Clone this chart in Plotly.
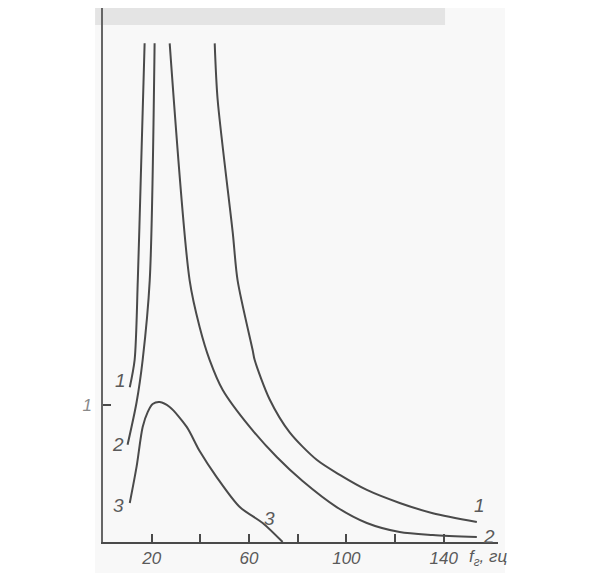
import plotly.graph_objects as go

# frequency (Hz) and relative amplitude
c1_x = [17.1, 15.5, 14.3, 13.0, 11.0, None,
        45.9, 47.1, 53.3, 55.3, 61.5, 62.3, 68.5, 76.7, 87.8, 97.3, 108.4, 121.9, 135.5, 153.6]
c1_y = [3.64, 2.64, 1.91, 1.33, 1.13, None,
        3.64, 3.23, 2.26, 1.91, 1.40, 1.33, 1.04, 0.80, 0.60, 0.49, 0.38, 0.285, 0.21, 0.146]

c2_x = [21.2, 19.2, 16.3, 13.8, 10.1, None,
        27.4, 35.6, 39.7, 43.8, 49.2, 60.3, 71.4, 82.0, 96.0, 108.4, 121.9, 135.5, 153.6]
c2_y = [3.64, 1.91, 1.33, 1.02, 0.71, None,
        3.64, 1.91, 1.57, 1.33, 1.11, 0.84, 0.62, 0.445, 0.255, 0.139, 0.073, 0.051, 0.036]

c3_x = [11.0, 13.8, 16.3, 18.4, 20.4, 23.3, 27.4, 34.4, 39.7, 46.7, 56.2, 65.6, 73.8]
c3_y = [0.285, 0.55, 0.84, 0.95, 1.007, 1.022, 0.985, 0.84, 0.664, 0.474, 0.255, 0.139, 0.0]

x_ticks = [20, 60, 100, 140]
x_tick_text = ["20", "60", "100", "140"]
x_minor_ticks = [40, 80, 120]
y_ticks = [1]
y_tick_text = ["1"]

# curve labels: (text, x, y)
label_text = ["1", "2", "3", "3", "1", "2"]
label_x = [7.0, 6.3, 6.3, 68.5, 154.5, 158.5]
label_y = [1.18, 0.71, 0.27, 0.17, 0.27, 0.04]

line_color = "#4a4a4a"
text_color = "#5a5a5a"
font_fam = "Liberation Sans Narrow, Liberation Sans, DejaVu Sans"

fig = go.Figure()
for xs, ys in [(c1_x, c1_y), (c2_x, c2_y), (c3_x, c3_y)]:
    fig.add_trace(go.Scatter(x=xs, y=ys, mode="lines",
                             line=dict(color=line_color, width=2, shape="spline", smoothing=0.8),
                             connectgaps=False, hoverinfo="skip", showlegend=False))

for t, x, y in zip(label_text, label_x, label_y):
    fig.add_annotation(x=x, y=y, text=f"<i>{t}</i>", showarrow=False,
                       font=dict(family=font_fam, size=19, color=text_color))

fig.add_annotation(x=158, y=0, yshift=-16, text="<i>f<sub>г</sub>, гц</i>", showarrow=False,
                   font=dict(family=font_fam, size=17, color=text_color))

# scanned page tint
fig.add_shape(type="rect", xref="paper", yref="paper", x0=-0.02, x1=1.018, y0=-0.058, y1=1.0,
              fillcolor="#f8f8f8", line=dict(width=0), layer="below")
fig.add_shape(type="rect", xref="paper", yref="paper", x0=-0.02, x1=0.866, y0=0.968, y1=1.0,
              fillcolor="#e4e4e4", line=dict(width=0), layer="below")

fig.update_layout(
    width=583, height=565,
    margin=dict(l=95, r=93, t=0, b=31),
    paper_bgcolor="white", plot_bgcolor="rgba(0,0,0,0)",
    xaxis=dict(range=[0, 162.3], showgrid=False, zeroline=False, showline=True,
               linecolor=line_color, linewidth=2, ticks="inside", ticklen=8,
               tickcolor=line_color, tickwidth=1.5,
               tickvals=x_ticks, ticktext=[f"<i>{t}</i>" for t in x_tick_text],
               minor=dict(tickvals=x_minor_ticks, ticks="inside", ticklen=8,
                          tickcolor=line_color, tickwidth=1.5),
               tickfont=dict(family=font_fam, size=17, color=text_color)),
    yaxis=dict(range=[0, 3.898], showgrid=False, zeroline=False, showline=True,
               linecolor="#666666", linewidth=1.5, ticks="inside", ticklen=8,
               tickcolor=line_color, tickwidth=1.5, ticklabelstandoff=6,
               tickvals=y_ticks, ticktext=[f"<i>{t}</i>" for t in y_tick_text],
               tickfont=dict(family=font_fam, size=17, color="#8a8a8a")),
)

fig.write_html("out.html")
